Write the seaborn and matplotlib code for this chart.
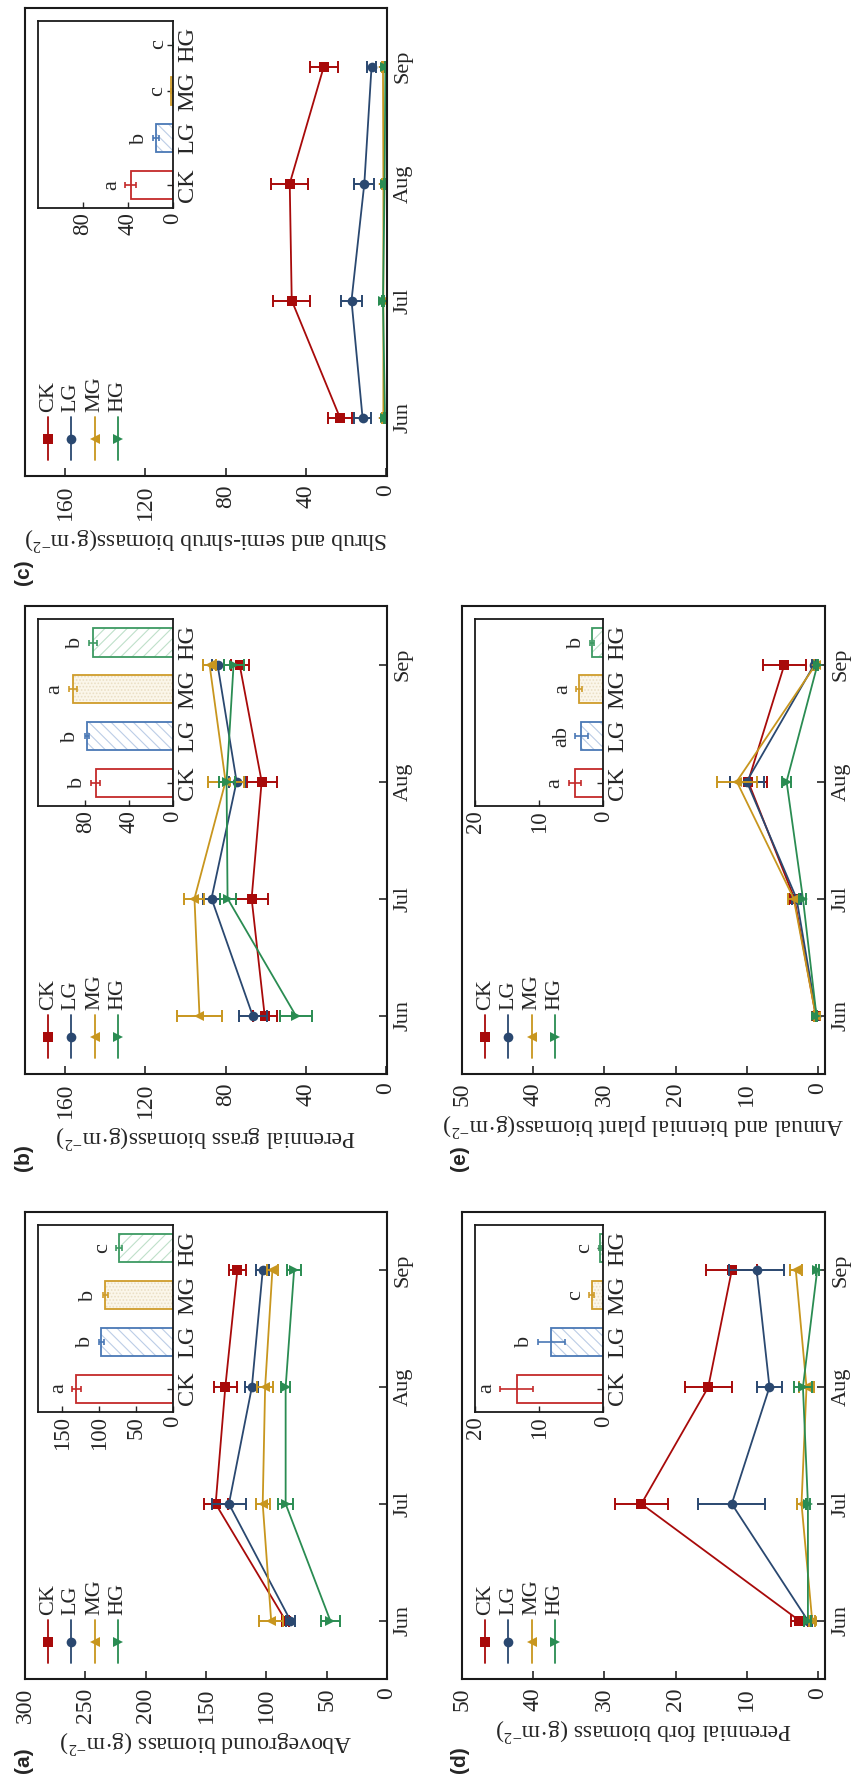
import numpy as np
import pandas as pd
import matplotlib.pyplot as plt
import seaborn as sns

months = ['Jun', 'Jul', 'Aug', 'Sep']
groups = ['CK', 'LG', 'MG', 'HG']

# monthly means / errors, rows in order CK, LG, MG, HG
a_mean = [[84, 142, 134, 124], [80, 131, 112, 103], [96, 103, 101, 95], [47, 84, 84, 77]]
a_err = [[3, 10, 9.6, 7], [4, 14, 5.5, 5.5], [10, 5.8, 6.4, 4.5], [8, 6, 4, 6]]
b_mean = [[60.5, 67, 62, 73], [66.5, 87, 74.5, 84], [93, 95.5, 80, 88], [45, 79, 79.5, 76]]
b_err = [[6, 8, 7.5, 4.5], [7, 4, 4, 3], [11, 5, 9, 3], [8, 4, 4, 5]]
c_mean = [[23, 47, 48, 31], [11.7, 17.2, 10.8, 7.2], [1.3, 1.3, 1.3, 1.5], [0.5, 1.5, 0.7, 0.3]]
c_err = [[5.8, 9.2, 9.2, 7], [4.4, 5.2, 5, 2.2], [0.5, 0.5, 0.5, 0.5], [0.3, 0.5, 0.3, 0.2]]
d_mean = [[2.6, 24.8, 15.4, 12.1], [1.4, 12.1, 6.8, 8.6], [0.8, 2.3, 1.6, 3.1], [1.4, 1.4, 2.1, 0.1]]
d_err = [[1.2, 3.7, 3.3, 3.6], [0.6, 4.7, 1.8, 3.9], [0.4, 0.6, 1.0, 0.8], [0.5, 0.3, 1.3, 0.2]]
e_mean = [[0.3, 3.3, 9.8, 4.7], [0.2, 3.0, 10.0, 0.5], [0.3, 3.4, 11.4, 0.3], [0.2, 2.1, 4.4, 0.05]]
e_err = [[0.2, 0.7, 2.6, 3.0], [0.1, 0.6, 2.4, 0.3], [0.2, 0.8, 2.8, 0.2], [0.1, 0.5, 0.6, 0.05]]

# whole-season means for the insets
a_bar = [131, 97, 92, 73]
a_bar_err = [5.7, 3.6, 3.6, 3.9]
a_letters = ['a', 'b', 'b', 'c']
b_bar = [70.4, 78.8, 91.2, 72.6]
b_bar_err = [3.9, 1.8, 3.7, 3.7]
b_letters = ['b', 'b', 'a', 'b']
c_bar = [37.7, 15.1, 1.5, 0.3]
c_bar_err = [4.8, 2.7, 0.5, 0.1]
c_letters = ['a', 'b', 'c', 'c']
d_bar = [13.5, 8.1, 1.8, 0.5]
d_bar_err = [2.6, 2.1, 0.4, 0.2]
d_letters = ['a', 'b', 'c', 'c']
e_bar = [4.4, 3.4, 3.75, 1.7]
e_bar_err = [1.0, 1.0, 0.5, 0.3]
e_letters = ['a', 'ab', 'a', 'b']

line_colors = ['#A80A0A', '#2A4870', '#C8961E', '#2A8C52']
markers = ['s', 'o', '<', '>']
edge_colors = ['#C42A2A', '#4A78B5', '#CF9C2A', '#3D9A62']
face_colors = ['none', 'white', '#FBF6EA', 'white']
hatch_colors = ['none', '#BCCDE6', '#EADFC4', '#BFE0CA']
hatches = ['', '\\\\\\', '.....', '///']

sns.set_style('white')
plt.rcParams['font.family'] = ['Liberation Serif', 'DejaVu Serif']
plt.rcParams['mathtext.fontset'] = 'custom'
plt.rcParams['mathtext.rm'] = 'Liberation Serif'
plt.rcParams['mathtext.it'] = 'Liberation Serif:italic'
plt.rcParams['hatch.linewidth'] = 0.8

W, H = 852, 1778
fig = plt.figure(figsize=(W / 100, H / 100), dpi=100)

col_x = {'L': (25, 387), 'R': (462, 825)}
row_y = {'top': (8, 476), 'mid': (606, 1074), 'bot': (1212, 1679)}


def add_ax(col, row):
    x0, x1 = col_x[col]
    y0, y1 = row_y[row]
    return fig.add_axes([x0 / W, 1 - y1 / H, (x1 - x0) / W, (y1 - y0) / H])


def style_spines(ax, lw=1.5):
    for s in ax.spines.values():
        s.set_visible(True)
        s.set_color('#1a1a1a')
        s.set_linewidth(lw)


def draw_legend(ax):
    for i, (g, c, mk) in enumerate(zip(groups, line_colors, markers)):
        x = 0.064 + 0.064 * i
        ax.plot([x, x], [0.034, 0.126], transform=ax.transAxes, color=c, lw=1.3)
        ax.plot([x], [0.08], transform=ax.transAxes, marker=mk, color=c, ms=7, mew=0)
        ax.text(x, 0.137, g, transform=ax.transAxes, rotation=90, ha='center',
                va='bottom', fontsize=16)


def draw_panel(ax, means, errs, lim, ticks, label):
    idx = np.arange(len(months))
    for g, m, e, c, mk in zip(groups, means, errs, line_colors, markers):
        df = pd.DataFrame({'value': m, 'month': idx})
        sns.lineplot(data=df, x='value', y='month', orient='y', color=c, marker=mk,
                     markersize=7, markeredgewidth=0, linewidth=1.3, ax=ax, legend=False)
        ax.errorbar(m, idx, xerr=e, fmt='none', ecolor=c, elinewidth=1.4,
                    capsize=4, capthick=1.4)
    ax.set_xlim(lim[1], lim[0])
    ax.set_ylim(-0.5, 3.5)
    ax.yaxis.tick_right()
    ax.set_yticks(idx)
    ax.set_yticklabels(months, rotation=90, va='center')
    ax.set_ylabel('')
    ax.set_xticks(ticks)
    ax.set_xticklabels([str(t) for t in ticks], rotation=90)
    ax.set_xlabel(label, rotation=180, fontsize=17, labelpad=3)
    ax.tick_params(axis='x', direction='in', length=6, width=1.2, pad=6, labelsize=17,
                   bottom=True, top=False)
    ax.tick_params(axis='y', direction='in', length=6, width=1.2, pad=5, labelsize=16,
                   left=False, right=True, labelleft=False, labelright=True)
    style_spines(ax)
    draw_legend(ax)


def draw_inset(ax, left, width, bars, bar_err, letters, lim, ticks):
    ins = ax.inset_axes([left, 0.572, width, 0.40])
    df = pd.DataFrame({'group': groups, 'value': bars})
    sns.barplot(data=df, x='value', y='group', hue='group', orient='h', width=0.6,
                palette=dict(zip(groups, edge_colors)), legend=False, ax=ins)
    for p, fc, hc, ht in zip(ins.patches, face_colors, hatch_colors, hatches):
        p.set_facecolor(fc)
        p.set_edgecolor(hc)
        p.set_hatch(ht)
        p.set_linewidth(0)
    pos = np.arange(len(groups))
    ins.barh(pos, bars, height=0.6, facecolor='none', edgecolor=edge_colors, linewidth=1.3)
    for i in pos:
        ins.errorbar(bars[i], i, xerr=bar_err[i], fmt='none', ecolor=edge_colors[i],
                     elinewidth=1.2, capsize=2.5, capthick=1.2)
        ins.annotate(letters[i], xy=(bars[i] + bar_err[i], i), xytext=(-3, 0),
                     textcoords='offset points', rotation=90, ha='right', va='center',
                     fontsize=16)
    ins.set_xlim(lim, 0)
    ins.set_ylim(-0.5, 3.5)
    ins.set_xticks(ticks)
    ins.set_xticklabels([str(t) for t in ticks], rotation=90)
    ins.yaxis.tick_right()
    ins.set_yticks(pos)
    ins.set_yticklabels(groups, rotation=90, va='center')
    ins.set_xlabel('')
    ins.set_ylabel('')
    ins.tick_params(axis='x', direction='in', length=4, width=1.0, pad=3, labelsize=16.5,
                    bottom=True, top=False)
    ins.tick_params(axis='y', direction='in', length=4, width=1.0, pad=3, labelsize=17.5,
                    left=False, right=True, labelleft=False, labelright=True)
    style_spines(ins, 1.3)


ax_a = add_ax('L', 'bot')
draw_panel(ax_a, a_mean, a_err, (0, 300), [0, 50, 100, 150, 200, 250, 300],
           'Aboveground biomass (g·m$^{-2}$)')
draw_inset(ax_a, 0.036, 0.373, a_bar, a_bar_err, a_letters, 183, [0, 50, 100, 150])

ax_b = add_ax('L', 'mid')
draw_panel(ax_b, b_mean, b_err, (-0.5, 180), [0, 40, 80, 120, 160],
           'Perennial grass biomass(g·m$^{-2}$)')
draw_inset(ax_b, 0.036, 0.373, b_bar, b_bar_err, b_letters, 123, [0, 40, 80])

ax_c = add_ax('L', 'top')
draw_panel(ax_c, c_mean, c_err, (-0.5, 180), [0, 40, 80, 120, 160],
           'Shrub and semi-shrub biomass(g·m$^{-2}$)')
draw_inset(ax_c, 0.036, 0.373, c_bar, c_bar_err, c_letters, 120, [0, 40, 80])

ax_d = add_ax('R', 'bot')
draw_panel(ax_d, d_mean, d_err, (-1, 50), [0, 10, 20, 30, 40, 50],
           'Perennial forb biomass (g·m$^{-2}$)')
draw_inset(ax_d, 0.036, 0.353, d_bar, d_bar_err, d_letters, 20, [0, 10, 20])

ax_e = add_ax('R', 'mid')
draw_panel(ax_e, e_mean, e_err, (-1, 50), [0, 10, 20, 30, 40, 50],
           'Annual and biennial plant biomass(g·m$^{-2}$)')
draw_inset(ax_e, 0.036, 0.353, e_bar, e_bar_err, e_letters, 20, [0, 10, 20])

# panel tags
for tag, (x, y) in {'(a)': (24, 1760), '(b)': (24, 1158), '(c)': (24, 572),
                    '(d)': (460, 1760), '(e)': (460, 1158)}.items():
    fig.text(x / W, 1 - y / H, tag, rotation=90, ha='center', va='center',
             fontsize=15, fontweight='bold', family=['Liberation Sans', 'DejaVu Sans'])

fig.savefig('out.png', dpi=100)
